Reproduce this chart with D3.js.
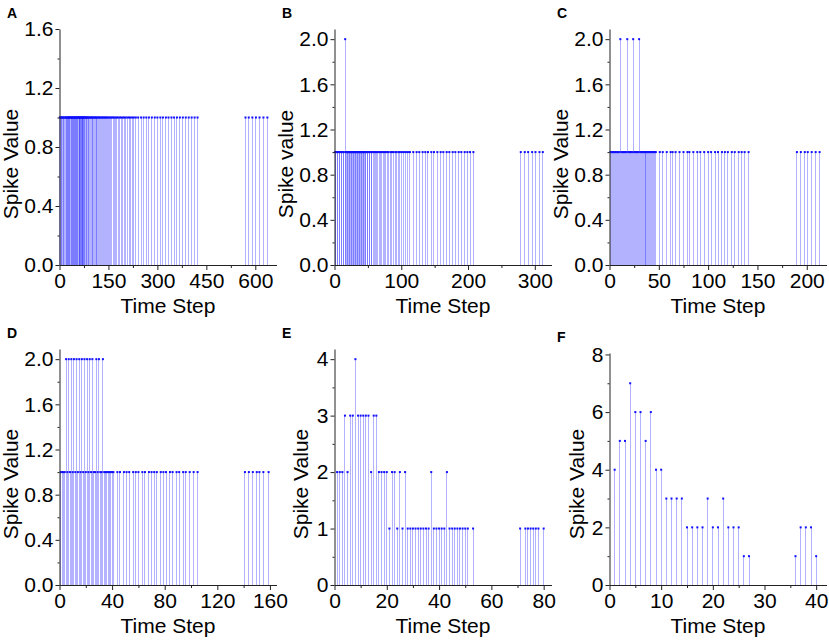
<!DOCTYPE html>
<html>
<head>
<meta charset="UTF-8">
<script src="https://d3js.org/d3.v7.min.js"></script>
<style>
  body { margin: 0; background: #fff; }
  text { font-family: "Liberation Sans", Arial, sans-serif; }
</style>
</head>
<body>
<div id="chart"></div>
<script>
// spike times (value 1 unless listed in the "twos" arrays)
var timesA = [1, 3, 5, 7, 9, 11, 13, 16, 18, 20, 22, 24, 26, 27, 29, 31, 32, 34, 36, 37, 39, 40, 42, 44, 45, 47, 48, 50,
  52, 53, 55, 56, 58, 60, 61, 62, 64, 65, 67, 68, 70, 71, 72, 74, 75, 77, 78, 80, 82, 84, 86, 88, 90, 93, 95, 97, 100,
  102, 104, 107, 109, 112, 114, 117, 120, 122, 125, 128, 131, 134, 137, 140, 143, 146, 150, 153, 157, 160, 164, 168,
  172, 176, 180, 185, 189, 194, 198, 203, 208, 213, 218, 223, 228, 234, 241, 250, 258, 266, 274, 283, 292, 300, 309,
  317, 326, 334, 343, 351, 360, 369, 378, 387, 396, 405, 414, 423, 570, 580, 591, 602, 613, 625, 637];

var timesB = [1, 2, 4, 5, 7, 8, 10, 11, 13, 14, 16, 17, 18, 19, 20, 21, 22, 23, 24, 25, 26, 27, 28, 29, 30, 31, 32, 33,
  34, 35, 36, 37, 38, 39, 40, 41, 42, 43, 44, 45, 46, 47, 49, 50, 52, 53, 55, 56, 58, 60, 61, 63, 65, 67, 69, 71, 73,
  75, 77, 79, 81, 84, 86, 88, 91, 93, 96, 98, 101, 104, 107, 110, 113, 118, 123, 127, 132, 136, 140, 145, 149, 154,
  159, 163, 168, 172, 177, 181, 186, 190, 195, 199, 203, 208, 279, 285, 290, 296, 301, 307, 312];
var twosB = [16];

var timesC = [1, 2, 3, 4, 5, 6, 7, 8, 9, 10, 11, 12, 13, 14, 15, 16, 17, 18, 19, 20, 21, 22, 23, 24, 25, 26, 27, 28,
  29, 30, 31, 32, 33, 34, 35, 36, 37, 38, 39, 40, 41, 42, 43, 44, 45, 46, 47, 51, 54, 58, 62, 64, 67, 71, 75, 79, 81,
  85, 89, 92, 96, 100, 103, 107, 110, 114, 117, 120, 124, 127, 131, 134, 137, 141, 190, 194, 198, 201, 205, 209, 213];
var twosC = [11, 18, 24, 30];

var timesD = [1, 2, 3, 4, 5, 6, 7, 8, 9, 10, 11, 12, 13, 14, 15, 16, 17, 18, 19, 20, 21, 22, 23, 24, 25, 26, 27, 28,
  29, 30, 31, 32, 33, 34, 35, 36, 37, 38, 39, 40, 41, 44, 46, 49, 51, 53, 56, 58, 60, 63, 65, 68, 70, 72, 74, 77, 79,
  81, 84, 86, 89, 91, 94, 96, 99, 102, 105, 141, 144, 147, 150, 152, 155, 159];
var twosD = [5, 7, 9, 11, 13, 15, 17, 19, 21, 23, 25, 28, 30, 33];

var timesE = [1, 2, 3, 4, 5, 6, 7, 8, 9, 10, 11, 12, 13, 14, 15, 16, 17, 18, 19, 20, 21, 22, 23, 24, 25, 26, 27, 28,
  29, 30, 31, 32, 33, 34, 35, 36, 37, 38, 39, 40, 41, 42, 43, 44, 45, 46, 47, 48, 49, 50, 51, 53, 71, 73, 74, 75, 76,
  77, 78, 80];
var valuesE = [2, 2, 2, 3, 2, 3, 3, 4, 3, 3, 3, 3, 3, 2, 3, 3, 2, 2, 2, 2, 1, 2, 2, 1, 2, 1, 2, 1,
  1, 1, 1, 1, 1, 1, 1, 1, 2, 1, 1, 1, 1, 1, 2, 1, 1, 1, 1, 1, 1, 1, 1, 1, 1, 1, 1, 1, 1,
  1, 1, 1];

var timesF = [1, 2, 3, 4, 5, 6, 7, 8, 9, 10, 11, 12, 13, 14, 15, 16, 17, 18, 19, 20, 21, 22, 23, 24, 25, 26, 27,
  36, 37, 38, 39, 40];
var valuesF = [4, 5, 5, 7, 6, 6, 5, 6, 4, 4, 3, 3, 3, 3, 2, 2, 2, 2, 3, 2, 2, 3, 2, 2, 2, 1, 1,
  1, 2, 2, 2, 1];

// tick values
var xTicksA = [0, 150, 300, 450, 600], xMinorA = [75, 225, 375, 525];
var xTicksB = [0, 100, 200, 300], xMinorB = [50, 150, 250];
var xTicksC = [0, 50, 100, 150, 200], xMinorC = [25, 75, 125, 175];
var xTicksD = [0, 40, 80, 120, 160], xMinorD = [20, 60, 100, 140];
var xTicksE = [0, 20, 40, 60, 80], xMinorE = [10, 30, 50, 70];
var xTicksF = [0, 10, 20, 30, 40], xMinorF = [5, 15, 25, 35];
var yTicksA = [0, 0.4, 0.8, 1.2, 1.6], yMinorA = [0.2, 0.6, 1.0, 1.4];
var yTicks2 = [0, 0.4, 0.8, 1.2, 1.6, 2.0], yMinor2 = [0.2, 0.6, 1.0, 1.4, 1.8];
var yTicksE = [0, 1, 2, 3, 4], yMinorE = [0.5, 1.5, 2.5, 3.5];
var yTicksF = [0, 2, 4, 6, 8], yMinorF = [1, 3, 5, 7];

function withTwos(times, twos) {
  return times.map(function(t) { return twos.indexOf(t) >= 0 ? 2 : 1; });
}

var panels = [
  {letter: "A", times: timesA, values: withTwos(timesA, []), left: 59.5, top: 29, bottom: 265, xMax: 665, yMax: 1.6,
   xTicks: xTicksA, xMinor: xMinorA, yTicks: yTicksA, yMinor: yMinorA, fmt: ".1f", ylab: "Spike Value", labOff: 42},
  {letter: "B", times: timesB, values: withTwos(timesB, twosB), left: 334.5, top: 29, bottom: 265, xMax: 325, yMax: 2.09,
   xTicks: xTicksB, xMinor: xMinorB, yTicks: yTicks2, yMinor: yMinor2, fmt: ".1f", ylab: "Spike value", labOff: 42},
  {letter: "C", times: timesC, values: withTwos(timesC, twosC), left: 609.5, top: 29, bottom: 265, xMax: 220, yMax: 2.09,
   xTicks: xTicksC, xMinor: xMinorC, yTicks: yTicks2, yMinor: yMinor2, fmt: ".1f", ylab: "Spike Value", labOff: 42},
  {letter: "D", times: timesD, values: withTwos(timesD, twosD), left: 59.5, top: 349, bottom: 585, xMax: 165, yMax: 2.09,
   xTicks: xTicksD, xMinor: xMinorD, yTicks: yTicks2, yMinor: yMinor2, fmt: ".1f", ylab: "Spike Value", labOff: 42},
  {letter: "E", times: timesE, values: valuesE, left: 334.5, top: 349, bottom: 585, xMax: 83, yMax: 4.18,
   xTicks: xTicksE, xMinor: xMinorE, yTicks: yTicksE, yMinor: yMinorE, fmt: "d", ylab: "Spike Value", labOff: 27},
  {letter: "F", times: timesF, values: valuesF, left: 609.5, top: 353, bottom: 585, xMax: 42, yMax: 8.05,
   xTicks: xTicksF, xMinor: xMinorF, yTicks: yTicksF, yMinor: yMinorF, fmt: "d", ylab: "Spike Value", labOff: 26}
];

var svg = d3.select("#chart").append("svg")
  .attr("width", 829)
  .attr("height", 643);

panels.forEach(function(p) {
  var g = svg.append("g");
  var x = d3.scaleLinear().domain([0, p.xMax]).range([p.left, p.left + 217]);
  var y = d3.scaleLinear().domain([0, p.yMax]).range([p.bottom, p.top]);
  var pts = p.times.map(function(t, i) { return {t: t, v: p.values[i]}; });

  g.selectAll(".stem").data(pts).enter().append("line")
    .attr("class", "stem")
    .attr("x1", function(d) { return x(d.t); })
    .attr("x2", function(d) { return x(d.t); })
    .attr("y1", y(0))
    .attr("y2", function(d) { return y(d.v); })
    .attr("stroke", "#0000ff")
    .attr("stroke-opacity", 0.3)
    .attr("stroke-width", 1)
    .attr("shape-rendering", "crispEdges");

  g.selectAll(".dot").data(pts).enter().append("rect")
    .attr("class", "dot")
    .attr("x", function(d) { return x(d.t) - 1; })
    .attr("y", function(d) { return y(d.v) - 1; })
    .attr("width", 2)
    .attr("height", 2)
    .attr("fill", "#1010ff");

  // x axis
  var xa = g.append("g").attr("transform", "translate(0," + p.bottom + ")")
    .call(d3.axisBottom(x).tickValues(p.xTicks).tickSize(5).tickSizeOuter(0).tickPadding(3));
  g.append("g").attr("transform", "translate(0," + p.bottom + ")")
    .call(d3.axisBottom(x).tickValues(p.xMinor).tickSize(3).tickFormat(""))
    .select(".domain").remove();

  // y axis
  var ya = g.append("g").attr("transform", "translate(" + p.left + ",0)")
    .call(d3.axisLeft(y).tickValues(p.yTicks).tickSize(4).tickSizeOuter(0).tickPadding(2)
      .tickFormat(d3.format(p.fmt)));
  g.append("g").attr("transform", "translate(" + p.left + ",0)")
    .call(d3.axisLeft(y).tickValues(p.yMinor).tickSize(2).tickFormat(""))
    .select(".domain").remove();

  g.selectAll(".domain, .tick line").attr("stroke", "#222");
  g.selectAll(".tick text")
    .attr("fill", "#000")
    .style("font-family", "'Liberation Sans', Arial, sans-serif")
    .style("font-size", "21px");

  g.append("text")
    .attr("x", p.left + 108.5)
    .attr("y", p.bottom + 48)
    .attr("text-anchor", "middle")
    .style("font-size", "21px")
    .text("Time Step");

  g.append("text")
    .attr("transform", "translate(" + (p.left - p.labOff) + "," + (p.bottom - 101) + ") rotate(-90)")
    .attr("text-anchor", "middle")
    .style("font-size", "21px")
    .text(p.ylab);

  g.append("text")
    .attr("x", p.left - 52.5)
    .attr("y", p.top - 11)
    .style("font-size", "14px")
    .style("font-weight", "bold")
    .text(p.letter);
});
</script>
</body>
</html>
